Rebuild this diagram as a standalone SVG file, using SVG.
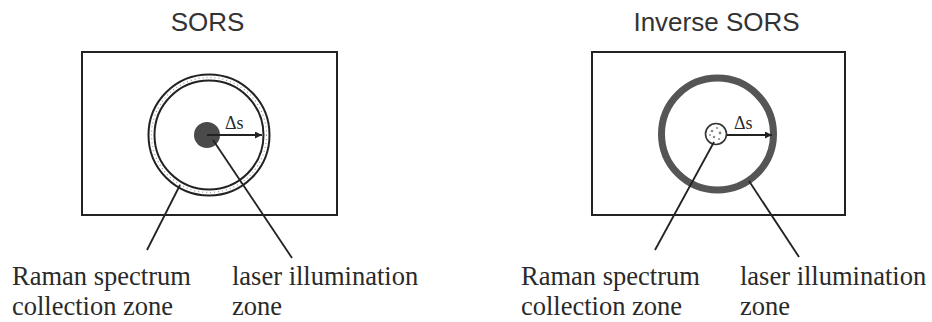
<svg xmlns="http://www.w3.org/2000/svg" width="932" height="322" viewBox="0 0 932 322">
<style>
.title{font-family:"Liberation Sans",Arial,sans-serif;font-size:26px;fill:#333;text-anchor:middle}
.lbl{font-family:"Liberation Serif","Times New Roman","Noto Serif","DejaVu Serif",serif;font-size:26.5px;fill:#2a2a2a}
.ds{font-family:"Liberation Serif","Times New Roman","Noto Serif","DejaVu Serif",serif;font-size:18px;fill:#2a2a2a}
.box{fill:none;stroke:#222;stroke-width:2}
.ln{stroke:#222;stroke-width:1.8;fill:none}
</style>
<defs>
<marker id="ahw" viewBox="0 0 10 10" refX="10" refY="5" markerWidth="8" markerHeight="7" orient="auto" markerUnits="userSpaceOnUse">
<path d="M0,0 L10,5 L0,10 z" fill="#222"/>
</marker>
</defs>
<g id="sors">
<text class="title" x="207.5" y="31">SORS</text>
<rect class="box" x="82" y="52" width="255" height="163"/>
<circle cx="209" cy="135" r="60.5" fill="none" stroke="#222" stroke-width="2"/>
<circle cx="209" cy="135" r="57.5" fill="none" stroke="#999" stroke-width="1.2" stroke-dasharray="1 3"/>
<circle cx="209" cy="135" r="54.5" fill="none" stroke="#222" stroke-width="2"/>
<circle cx="207" cy="135" r="13" fill="#4a4a4a"/>
<text class="ds" x="225" y="129">Δs</text>
<line class="ln" x1="207" y1="135" x2="262" y2="135" marker-end="url(#ahw)"/>
<text class="lbl" x="12" y="285">Raman spectrum</text>
<text class="lbl" x="12" y="315">collection zone</text>
<text class="lbl" x="232" y="285">laser illumination</text>
<text class="lbl" x="232" y="315">zone</text>
</g>
<g id="inverse-sors">
<text class="title" x="716.5" y="31">Inverse SORS</text>
<rect class="box" x="592" y="52" width="253" height="163"/>
<circle cx="717.5" cy="134" r="56" fill="none" stroke="#555" stroke-width="7"/>
<circle cx="716" cy="134" r="10.5" fill="#fff" stroke="#333" stroke-width="1.6"/>
<g fill="#888">
<circle cx="712" cy="131" r="1.3"/>
<circle cx="717" cy="128" r="1"/>
<circle cx="720" cy="133" r="1.4"/>
<circle cx="714" cy="137" r="1.2"/>
<circle cx="719" cy="139" r="1"/>
<circle cx="710" cy="135" r="0.9"/>
</g>
<text class="ds" x="734" y="129">Δs</text>
<line class="ln" x1="727" y1="135" x2="772" y2="135" marker-end="url(#ahw)"/>
<text class="lbl" x="521" y="285">Raman spectrum</text>
<text class="lbl" x="521" y="315">collection zone</text>
<text class="lbl" x="740" y="285">laser illumination</text>
<text class="lbl" x="740" y="315">zone</text>
</g>
<g id="connectors">
<line class="ln" x1="180" y1="185" x2="147" y2="250"/>
<line class="ln" x1="213" y1="140" x2="292" y2="258"/>
<line class="ln" x1="714" y1="142" x2="655" y2="250"/>
<line class="ln" x1="749" y1="181" x2="799" y2="257"/>
</g>
</svg>
